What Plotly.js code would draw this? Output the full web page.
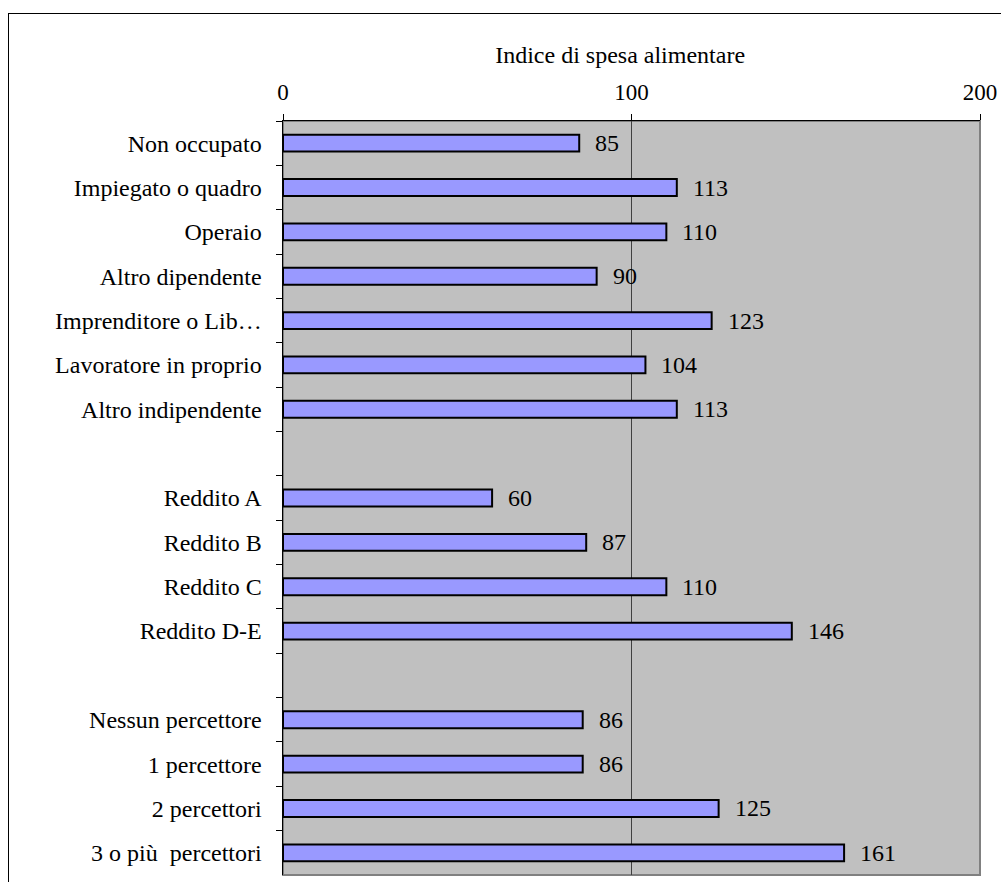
<!DOCTYPE html>
<html>
<head>
<meta charset="utf-8">
<script src="https://cdn.plot.ly/plotly-3.0.1.min.js"></script>
<style>
  html, body { margin: 0; padding: 0; background: #fff; overflow: hidden; }
  #frame { position: absolute; left: 8px; top: 13px; width: 1100px; height: 1000px; border: 1px solid #000; box-sizing: border-box; }
  #chart { position: absolute; left: 0; top: 0; width: 1001px; height: 882px; }
</style>
</head>
<body>
<div id="frame"></div>
<div id="chart"></div>
<script>
const categories = [
  "Non occupato", "Impiegato o quadro", "Operaio", "Altro dipendente",
  "Imprenditore o Lib\u2026", "Lavoratore in proprio", "Altro indipendente",
  " ",
  "Reddito A", "Reddito B", "Reddito C", "Reddito D-E",
  "  ",
  "Nessun percettore", "1 percettore", "2 percettori", "3 o più  percettori"
];
const values = [85, 113, 110, 90, 123, 104, 113, null, 60, 87, 110, 146, null, 86, 86, 125, 161];
const xTickVals = [0, 100, 200];
const xTitle = "Indice di spesa alimentare";

const font = "Liberation Serif, Times New Roman, serif";

const annotations = [];
categories.forEach((c, i) => {
  if (values[i] !== null) {
    annotations.push({
      x: values[i], y: c, xref: "x", yref: "y",
      text: String(values[i]), showarrow: false,
      xanchor: "left", yanchor: "middle", xshift: 14,
      font: { family: font, size: 24, color: "#000" }
    });
  }
});

const trace = {
  type: "bar",
  orientation: "h",
  x: values,
  y: categories,
  marker: { color: "#9999ff", line: { color: "#000", width: 2 } },
  width: 0.38,
  hoverinfo: "x+y"
};

const layout = {
  width: 1001, height: 882,
  margin: { l: 283, r: 21, t: 121, b: 7, pad: 0 },
  paper_bgcolor: "rgba(0,0,0,0)",
  plot_bgcolor: "#c0c0c0",
  showlegend: false,
  font: { family: font, color: "#000" },
  title: {
    text: xTitle,
    font: { family: font, size: 24, color: "#000" },
    xref: "container", yref: "container",
    x: 0.6195, y: 0.938, xanchor: "center", yanchor: "middle"
  },
  xaxis: {
    side: "top",
    range: [0, 200],
    tickvals: xTickVals,
    ticktext: xTickVals.map(String),
    showgrid: true, gridcolor: "#404040", gridwidth: 1,
    zeroline: false,
    showline: true, linecolor: "#000", linewidth: 1.5,
    ticks: "outside", ticklen: 6, tickcolor: "#000",
    tickfont: { family: font, size: 23, color: "#000" },
    ticklabelstandoff: 4,
    fixedrange: true
  },
  yaxis: {
    type: "category",
    categoryorder: "array",
    categoryarray: categories,
    autorange: "reversed",
    tickson: "boundaries",
    showgrid: false,
    zeroline: false,
    showline: true, linecolor: "#000", linewidth: 1.5,
    ticks: "outside", ticklen: 6, tickcolor: "#000",
    tickfont: { family: font, size: 24, color: "#000" },
    ticklabelstandoff: 15,
    fixedrange: true
  },
  shapes: [
    { type: "rect", xref: "paper", yref: "paper", x0: 0, x1: 1, y0: 0, y1: 1,
      line: { color: "#808080", width: 2 }, layer: "below" }
  ],
  annotations: annotations
};

Plotly.newPlot("chart", [trace], layout, { displayModeBar: false, staticPlot: true });
</script>
</body>
</html>
